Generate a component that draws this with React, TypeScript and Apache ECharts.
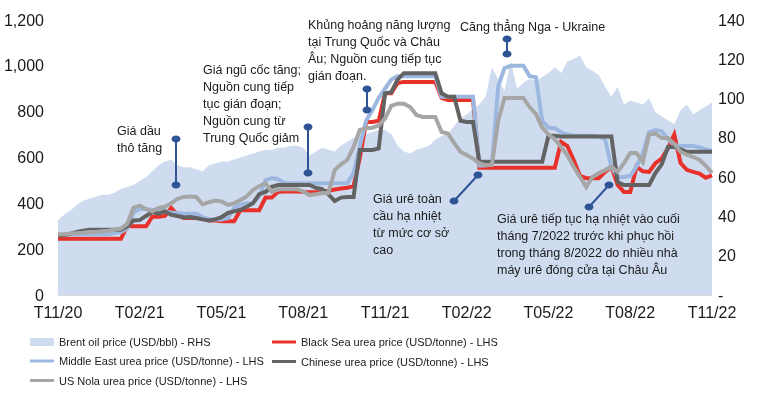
import React, { useEffect, useRef } from 'react';
import * as echarts from 'echarts';

// X-axis tick labels (every 13 weeks)
const tickLabels = ['T11/20', 'T02/21', 'T05/21', 'T08/21', 'T11/21', 'T02/22', 'T05/22', 'T08/22', 'T11/22'];
// Weekly categories, Nov 2020 – Nov 2022
const weeks = Array.from({ length: 105 }, (_, i) => `Tuần ${i + 1}`);

const brent = [
  38, 41, 43, 46, 48, 49, 50, 51, 51, 52,
  54, 55, 56, 58, 60, 63, 66, 68, 69, 66,
  65, 65, 64, 63, 66, 67, 68, 68, 69, 70,
  71, 72, 73, 74, 74, 75, 75, 76, 76, 75,
  71, 73, 75, 74, 73, 76, 78, 80, 81, 82,
  83, 84, 84, 82, 76, 73, 72, 74, 75, 76,
  79, 81, 82, 86, 90, 92, 95, 97, 101, 116,
  110, 104, 119, 105, 108, 110, 109, 111, 113, 116,
  113, 119, 120, 122, 116, 114, 112, 106, 101, 106,
  97, 99, 98, 97, 100, 93, 91, 89, 87, 94,
  97, 92, 94, 96, 98,
];

const blackSea = [
  245, 245, 245, 245, 245, 245, 245, 245, 245, 245, 245,
  300, 300, 300, 300,
  342, 342, 345,
  380,
  350, 336, 336, 336, 334,
  325, 325, 322, 322, 322,
  370, 370, 370, 370,
  425, 425,
  450, 452, 452, 452, 450, 448, 448, 448, 455, 460, 465, 468,
  475,
  600, 755, 755, 760, 880, 880, 925,
  930, 930, 930, 930, 930, 930,
  860,
  851, 851, 851, 851, 851,
  555, 555, 555, 555, 555, 555, 555, 555, 555, 555, 555, 555,
  555,
  668, 650, 589, 520, 510, 510, 510, 537, 560, 480, 450, 450, 560, 540, 537, 575, 595, 640, 700, 576, 546, 537, 530, 512, 522,
];

const middleEast = [
  262, 262, 265, 265, 265, 265, 265, 265, 265, 270, 275,
  290, 360, 375, 375, 372, 370, 365, 360, 358, 355, 355, 355,
  340, 330, 330, 330, 335,
  380, 395, 400, 402, 430, 500, 510, 505, 490,
  488, 488, 488, 488, 488, 488, 488, 488, 488, 488,
  532, 650, 760, 807, 860, 900, 940,
  955, 955, 955, 955, 955, 955, 955,
  865, 865, 865, 865, 865, 865,
  565, 565, 570,
  910, 990, 1000, 1000, 1000, 955, 950,
  760, 730, 728,
  710, 700, 695, 695, 695, 695, 692, 680, 560, 515, 515, 520, 560, 620, 710, 720, 715, 680, 655, 650, 650, 650, 645, 635, 630,
];

const chinese = [
  258, 262, 268, 275, 280, 285, 285, 285, 285, 285, 285,
  300, 325, 327, 345, 362, 355, 365, 350, 345, 338,
  340, 336, 330, 325, 330, 340, 358, 365, 372, 385, 400,
  440, 450, 472, 480, 480, 480, 480, 480, 480,
  468, 462, 440, 410, 425, 428, 428,
  633, 633, 633, 640,
  880, 885, 940,
  968, 968, 968, 968, 968, 968,
  880, 865, 865,
  760, 755, 755,
  582, 582, 582, 582, 582, 582, 582, 582, 582, 582, 582,
  695, 695, 692, 692, 692, 692, 692, 692, 692, 692, 692,
  493,
  480, 480, 480, 480, 480,
  532, 570, 646, 646, 635, 625, 625, 625, 625, 625,
];

const usNola = [
  265, 265, 268, 270, 272, 275, 275, 278, 280, 285, 290,
  310, 380, 390, 375, 365, 380, 385, 400, 420, 428, 430, 428,
  395, 405, 412, 408, 393, 400, 415, 430, 458, 475, 488,
  450, 460, 462, 462, 462, 452, 436, 440, 445, 445,
  545, 570, 589, 646,
  720, 728, 730, 740, 770, 825, 835, 835, 820, 785, 777, 777, 777,
  711, 705, 663, 625, 611, 595, 575, 567, 567,
  760, 860, 860, 860, 860, 820, 790, 730, 700, 680,
  646, 610, 560, 515, 471, 515, 532, 545, 560, 537, 575, 620, 620, 580, 700, 705, 685, 685, 660, 625, 612, 602, 590, 565, 532,
];

const N_BRENT = 'Brent oil price (USD/bbl) - RHS';
const N_BS = 'Black Sea urea price (USD/tonne) - LHS';
const N_ME = 'Middle East urea price (USD/tonne) - LHS';
const N_CN = 'Chinese urea price (USD/tonne) - LHS';
const N_NOLA = 'US Nola urea price (USD/tonne) - LHS';

const annotations = [
  { x: 117, y: 122, text: 'Giá dầu\nthô tăng' },
  { x: 203, y: 61, text: 'Giá ngũ cốc tăng;\nNguồn cung tiếp\ntục gián đoạn;\nNguồn cung từ\nTrung Quốc giảm' },
  { x: 308, y: 16, text: 'Khủng hoảng năng lượng\ntại Trung Quốc và Châu\nÂu; Nguồn cung tiếp tục\ngián đoạn.' },
  { x: 460, y: 18, text: 'Căng thẳng Nga - Ukraine' },
  { x: 373, y: 190, text: 'Giá urê toàn\ncầu hạ nhiệt\ntừ mức cơ sở\ncao' },
  { x: 497, y: 210, text: 'Giá urê tiếp tục hạ nhiệt vào cuối\ntháng 7/2022 trước khi phục hồi\ntrong tháng 8/2022 do nhiều nhà\nmáy urê đóng cửa tại Châu Âu' },
];

const markers = [
  [176, 139, 176, 185],
  [308, 127, 308, 173],
  [367, 89, 367, 110],
  [507, 39, 507, 54],
  [478, 175, 454, 201],
  [609, 185, 589, 207],
];

const FONT = "'Liberation Sans', Arial, sans-serif";
const MARK = '#2f5496';

export default function App() {
  const ref = useRef<HTMLDivElement>(null);
  useEffect(() => {
    if (!ref.current) return;
    const chart = echarts.init(ref.current, undefined, { renderer: 'svg' });

    const lineSeries = (name: string, data: number[], color: string, z: number) => ({
      name,
      type: 'line',
      data,
      symbol: 'none',
      z,
      lineStyle: { width: 4, color, cap: 'butt', join: 'miter' },
      itemStyle: { color },
      emphasis: { disabled: true },
    });

    const graphics: any[] = [];
    annotations.forEach((a) => {
      graphics.push({
        type: 'text',
        left: a.x,
        top: a.y,
        z: 100,
        style: { text: a.text, fontSize: 12.5, fontFamily: FONT, fill: '#1a1a1a', lineHeight: 17 },
      });
    });
    markers.forEach(([x1, y1, x2, y2]) => {
      graphics.push({ type: 'line', z: 100, shape: { x1, y1, x2, y2 }, style: { stroke: MARK, lineWidth: 2 } });
      graphics.push({ type: 'ellipse', z: 101, shape: { cx: x1, cy: y1, rx: 4.5, ry: 3.5 }, style: { fill: MARK } });
      graphics.push({ type: 'ellipse', z: 101, shape: { cx: x2, cy: y2, rx: 4.5, ry: 3.5 }, style: { fill: MARK } });
    });

    const legendText = { fontSize: 11, fontFamily: FONT, color: '#1a1a1a', lineHeight: 14 };

    chart.setOption({
      animation: false,
      grid: { left: 58, right: 53, top: 20, bottom: 103, containLabel: false },
      legend: [
        {
          data: [{ name: N_BRENT, icon: 'rect' }],
          left: 30, top: 335, padding: 0, itemWidth: 24, itemHeight: 8,
          selectedMode: false, textStyle: legendText,
        },
        {
          data: [{ name: N_ME, icon: 'rect' }, { name: N_NOLA, icon: 'rect' }], orient: 'vertical',
          left: 30, top: 354, padding: 0, itemWidth: 24, itemHeight: 3, itemGap: 5.5,
          selectedMode: false, textStyle: legendText,
        },
        {
          data: [{ name: N_BS, icon: 'rect' }, { name: N_CN, icon: 'rect' }], orient: 'vertical',
          left: 272, top: 335, padding: 0, itemWidth: 24, itemHeight: 3, itemGap: 5.5,
          selectedMode: false, textStyle: legendText,
        },
      ],
      xAxis: {
        type: 'category',
        data: weeks,
        boundaryGap: false,
        axisLine: { lineStyle: { color: '#d9d9d9', width: 1 } },
        axisTick: { show: false },
        axisLabel: {
          interval: 12,
          margin: 9,
          fontSize: 16,
          fontFamily: FONT,
          color: '#1a1a1a',
          formatter: (_v: string, idx: number) => tickLabels[Math.round(idx / 13)] ?? '',
        },
        splitLine: { show: false },
      },
      yAxis: [
        {
          type: 'value', min: 0, max: 1200, interval: 200, position: 'left',
          axisLine: { show: false }, axisTick: { show: false }, splitLine: { show: false },
          axisLabel: {
            margin: 14, fontSize: 16, fontFamily: FONT, color: '#1a1a1a',
            formatter: (v: number) => v.toLocaleString('en-US'),
          },
        },
        {
          type: 'value', min: 0, max: 140, interval: 20, position: 'right',
          axisLine: { show: false }, axisTick: { show: false }, splitLine: { show: false },
          axisLabel: {
            margin: 6, fontSize: 16, fontFamily: FONT, color: '#1a1a1a',
            formatter: (v: number) => (v === 0 ? '-' : String(v)),
          },
        },
      ],
      series: [
        {
          name: N_BRENT,
          type: 'line',
          yAxisIndex: 1,
          data: brent,
          symbol: 'none',
          z: 1,
          lineStyle: { width: 0, color: '#cfdcf0' },
          areaStyle: { color: '#cfdcf0', opacity: 1 },
          itemStyle: { color: '#cfdcf0' },
          emphasis: { disabled: true },
        },
        lineSeries(N_BS, blackSea, '#e8312a', 2),
        lineSeries(N_ME, middleEast, '#9db8e0', 3),
        lineSeries(N_CN, chinese, '#636363', 4),
        lineSeries(N_NOLA, usNola, '#a6a6a6', 5),
      ],
      graphic: graphics,
    });
    return () => chart.dispose();
  }, []);
  return <div ref={ref} style={{ width: 765, height: 398, position: 'fixed', left: 0, top: 0 }} />;
}
